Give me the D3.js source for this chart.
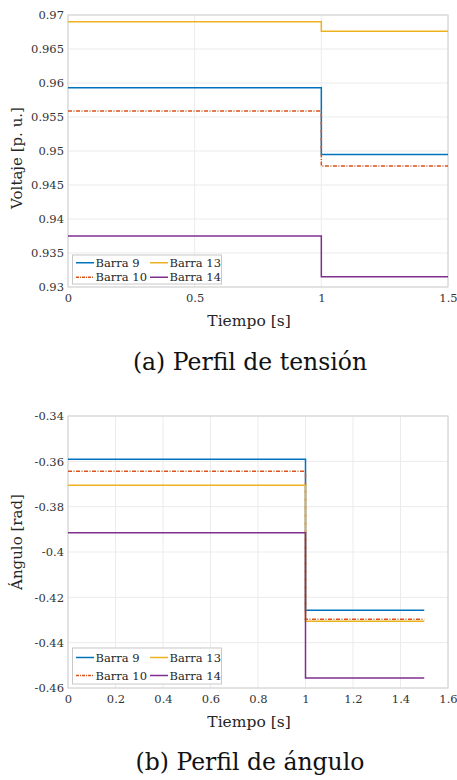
<!DOCTYPE html>
<html>
<head>
<meta charset="utf-8">
<style>
  body { margin: 0; background: #fff; }
  .grid line { stroke: #ebebeb; stroke-width: 1; }
</style>
</head>
<body>
<svg id="chart" width="457" height="780"></svg>
<script src="https://cdn.jsdelivr.net/npm/d3@7"></script>
<script>
// shared
var names = ['Barra 9', 'Barra 10', 'Barra 13', 'Barra 14'];
var colors = ['#0072BD', '#D95319', '#EDB120', '#7E2F8E'];
var dashes = [null, '4,1.5,1,1.5', null, null];
var time = [0, 1, 1.5];

// (a) voltage, before / after the step at t = 1 s
var voltBefore = [0.9593, 0.9559, 0.9690, 0.9375];
var voltAfter  = [0.9495, 0.9478, 0.9676, 0.9315];
var voltTicksY = [0.93, 0.935, 0.94, 0.945, 0.95, 0.955, 0.96, 0.965, 0.97];
var voltTicksX = [0, 0.5, 1, 1.5];

// (b) angle
var angBefore = [-0.3591, -0.3644, -0.3706, -0.3915];
var angAfter  = [-0.4257, -0.4297, -0.4306, -0.4556];
var angTicksY = [-0.46, -0.44, -0.42, -0.4, -0.38, -0.36, -0.34];
var angTicksX = [0, 0.2, 0.4, 0.6, 0.8, 1, 1.2, 1.4, 1.6];

var SERIF = 'DejaVu Serif';

var svg = d3.select('#chart');
var fmt = function(d) { return String(+d.toFixed(4)); }; // plain hyphen minus, like MATLAB

function panel(opt) {
  var g = svg.append('g');
  var x = d3.scaleLinear().domain(opt.xDomain).range([68, 448]);
  var y = d3.scaleLinear().domain(opt.yDomain).range([opt.bottom, opt.top]);

  // grid
  var grid = g.append('g').attr('class', 'grid');
  grid.selectAll('.gx').data(opt.ticksX).enter().append('line')
    .attr('x1', d => x(d)).attr('x2', d => x(d))
    .attr('y1', opt.top).attr('y2', opt.bottom);
  grid.selectAll('.gy').data(opt.ticksY).enter().append('line')
    .attr('y1', d => y(d)).attr('y2', d => y(d))
    .attr('x1', 68).attr('x2', 448);

  // box
  g.append('rect')
    .attr('x', 68).attr('y', opt.top)
    .attr('width', 380).attr('height', opt.bottom - opt.top)
    .attr('fill', 'none').attr('stroke', '#d0d0d0');

  // axes
  var ax = g.append('g')
    .attr('transform', 'translate(0,' + opt.bottom + ')')
    .call(d3.axisBottom(x).tickValues(opt.ticksX).tickSize(0).tickPadding(7).tickFormat(fmt));
  ax.select('.domain').remove();

  var ay = g.append('g')
    .attr('transform', 'translate(68,0)')
    .call(d3.axisLeft(y).tickValues(opt.ticksY).tickSize(0).tickPadding(4).tickFormat(fmt));
  ay.select('.domain').remove();

  g.selectAll('.tick text')
    .attr('fill', '#333')
    .attr('font-family', SERIF)
    .attr('font-size', 11.5);

  // lines
  var line = d3.line().x(d => x(d[0])).y(d => y(d[1])).curve(d3.curveStepAfter);
  names.forEach(function(n, i) {
    var pts = [[time[0], opt.before[i]], [time[1], opt.after[i]], [time[2], opt.after[i]]];
    g.append('path')
      .attr('d', line(pts))
      .attr('fill', 'none')
      .attr('stroke', colors[i])
      .attr('stroke-width', 1.5)
      .attr('stroke-dasharray', dashes[i]);
  });

  // axis titles
  g.append('text')
    .attr('x', 249).attr('y', opt.bottom + 39)
    .attr('text-anchor', 'middle')
    .attr('font-family', SERIF).attr('font-size', 15.5).attr('fill', '#262626')
    .text('Tiempo [s]');
  g.append('text')
    .attr('transform', 'translate(22,' + opt.yLabelMid + ') rotate(-90)')
    .attr('text-anchor', 'middle')
    .attr('font-family', SERIF).attr('font-size', 15).attr('fill', '#262626')
    .text(opt.yLabel);

  // legend
  var lg = g.append('g');
  lg.append('rect')
    .attr('x', 72.5).attr('y', opt.legTop)
    .attr('width', 149).attr('height', opt.legH)
    .attr('fill', '#fff').attr('stroke', '#c8c8c8');
  var order = [0, 2, 1, 3];
  order.forEach(function(i, k) {
    var col = k % 2, row = Math.floor(k / 2);
    var lx = col === 0 ? 76 : 150;
    var ly = opt.legTop + opt.legH / 4 + row * opt.legH / 2 + 0.5;
    lg.append('line')
      .attr('x1', lx).attr('x2', lx + 18).attr('y1', ly).attr('y2', ly)
      .attr('stroke', colors[i]).attr('stroke-width', 1.5)
      .attr('stroke-dasharray', dashes[i] ? '3,1,1,1' : null);
    lg.append('text')
      .attr('x', lx + 19.5).attr('y', ly)
      .attr('dy', '0.35em')
      .attr('font-family', SERIF).attr('font-size', 11.5).attr('fill', '#262626')
      .text(names[i]);
  });

  // caption
  svg.append('text')
    .attr('x', 250).attr('y', opt.capY)
    .attr('text-anchor', 'middle')
    .attr('font-family', SERIF).attr('font-size', 23.5).attr('fill', '#111')
    .text(opt.caption);
}

panel({
  xDomain: [0, 1.5], yDomain: [0.93, 0.97], top: 15, bottom: 287,
  ticksX: voltTicksX, ticksY: voltTicksY,
  before: voltBefore, after: voltAfter,
  yLabel: 'Voltaje [p. u.]', yLabelMid: 158, legTop: 255, legH: 29,
  caption: '(a) Perfil de tensión', capY: 370
});

panel({
  xDomain: [0, 1.6], yDomain: [-0.46, -0.34], top: 416, bottom: 688,
  ticksX: angTicksX, ticksY: angTicksY,
  before: angBefore, after: angAfter,
  yLabel: 'Ángulo [rad]', yLabelMid: 542, legTop: 648, legH: 36,
  caption: '(b) Perfil de ángulo', capY: 770
});
</script>
</body>
</html>
